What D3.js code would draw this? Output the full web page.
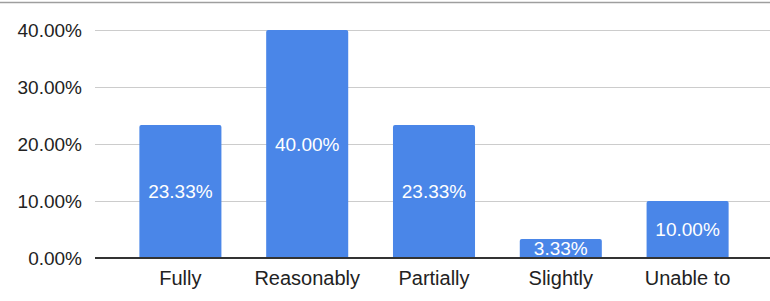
<!DOCTYPE html>
<html><head><meta charset="utf-8">
<script src="https://cdn.jsdelivr.net/npm/d3@7"></script>
<style>body{margin:0;background:#fff}svg{display:block;font-family:"Liberation Sans",Arial,sans-serif}</style>
</head><body><svg id="c" width="770" height="301"></svg>
<script>
const categories = ["Fully","Reasonably","Partially","Slightly","Unable to"];
const values = [23.33, 40.00, 23.33, 3.33, 10.00];
const tickValues = [0, 10, 20, 30, 40];

const svg = d3.select("#c");
const W = 770;
const y = d3.scaleLinear().domain([0, 40]).range([258, 30]);
const x = d3.scaleBand().domain(categories).range([117, 751]).paddingInner(0.353).paddingOuter(0.1765);
const fmt = v => v.toFixed(2) + "%";

// top border line
svg.append("line").attr("x1",0).attr("x2",W).attr("y1",2.5).attr("y2",2.5)
  .attr("stroke","#9e9e9e").attr("stroke-width",1.5);

// grid
svg.append("g").selectAll("line").data(tickValues.filter(d=>d>0)).join("line")
  .attr("x1",95).attr("x2",W).attr("y1",d=>y(d)+0.5).attr("y2",d=>y(d)+0.5)
  .attr("stroke","#cccccc").attr("stroke-width",1);

// y tick labels
svg.append("g").selectAll("text").data(tickValues).join("text")
  .attr("x",82).attr("y",d=>y(d)).attr("dy","0.36em").attr("text-anchor","end")
  .attr("font-size",19).attr("fill","#222").text(fmt);

// bars with rounded top corners
const r = 2;
svg.append("g").selectAll("path").data(values).join("path")
  .attr("fill","#4a86e8")
  .attr("d",(d,i)=>{
    const x0 = x(categories[i]), w = x.bandwidth(), yt = y(d), yb = y(0);
    return `M${x0},${yb}V${yt+r}Q${x0},${yt} ${x0+r},${yt}H${x0+w-r}Q${x0+w},${yt} ${x0+w},${yt+r}V${yb}Z`;
  });

// value labels
svg.append("g").selectAll("text").data(values).join("text")
  .attr("x",(d,i)=>x(categories[i])+x.bandwidth()/2)
  .attr("y",d=>(y(d)+y(0))/2).attr("dy","0.36em").attr("text-anchor","middle")
  .attr("font-size",19).attr("fill","#fff")
  .attr("stroke","#4a86e8").attr("stroke-width",3).attr("paint-order","stroke")
  .attr("stroke-linejoin","round")
  .text(fmt);

// baseline
svg.append("line").attr("x1",95).attr("x2",W).attr("y1",y(0)).attr("y2",y(0))
  .attr("stroke","#333").attr("stroke-width",2);

// category labels
svg.append("g").selectAll("text").data(categories).join("text")
  .attr("x",d=>x(d)+x.bandwidth()/2).attr("y",285).attr("text-anchor","middle")
  .attr("font-size",20).attr("fill","#222").text(d=>d);
</script></body></html>
